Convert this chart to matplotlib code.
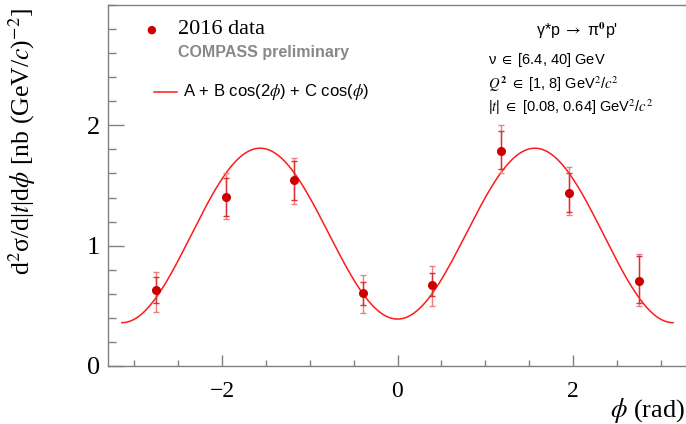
import numpy as np
import matplotlib
matplotlib.use("Agg")
import matplotlib.pyplot as plt
from matplotlib.ticker import MultipleLocator, FixedLocator

plt.rcParams["mathtext.fontset"] = "stix"

# phi bin centres (rad) and measured cross sections
phi = [-2.75, -1.96, -1.18, -0.39, 0.39, 1.18, 1.96, 2.75]
xsec = [0.63, 1.405, 1.545, 0.605, 0.67, 1.79, 1.44, 0.71]
# statistical errors (down, up)
stat_lo = [0.11, 0.155, 0.165, 0.095, 0.09, 0.15, 0.16, 0.19]
stat_hi = [0.11, 0.155, 0.155, 0.095, 0.10, 0.16, 0.165, 0.20]
# total errors (down, up)
tot_lo = [0.18, 0.185, 0.20, 0.165, 0.17, 0.185, 0.185, 0.21]
tot_hi = [0.15, 0.195, 0.185, 0.155, 0.16, 0.215, 0.215, 0.22]

# fit parameters of A + B cos(2phi) + C cos(phi)
fit_A = 1.0925
fit_B = -0.7175
fit_C = 0.015

W, H = 686, 424
fig = plt.figure(figsize=(W / 100, H / 100), dpi=100)
ax = fig.add_axes([108 / W, 58 / H, 579 / W, 361 / H])

frame = "#808080"
for side in ("left", "bottom", "top"):
    ax.spines[side].set_color(frame)
    ax.spines[side].set_linewidth(1.0)
ax.spines["right"].set_visible(False)

# fitted curve
xf = np.linspace(-np.pi, np.pi, 400)
yf = fit_A + fit_B * np.cos(2 * xf) + fit_C * np.cos(xf)
ax.plot(xf, yf, color="#ff1a1a", lw=1.1, zorder=2)

# error bars: total (outer) and statistical (inner)
ax.errorbar(phi, xsec, yerr=[tot_lo, tot_hi], fmt="none", ecolor="#ec8080",
            elinewidth=1.0, capsize=2.5, capthick=1.0, zorder=3)
ax.errorbar(phi, xsec, yerr=[stat_lo, stat_hi], fmt="none", ecolor="#d93030",
            elinewidth=1.0, capsize=2.5, capthick=1.0, zorder=4)
ax.plot(phi, xsec, "o", color="#cc0000", ms=5.5, zorder=5)

ax.set_xlim(-3.3, 3.3)
ax.set_ylim(0, 3.0)
ax.xaxis.set_major_locator(MultipleLocator(2))
ax.xaxis.set_minor_locator(MultipleLocator(0.5))
ax.yaxis.set_major_locator(FixedLocator([0, 1, 2]))
ax.yaxis.set_minor_locator(MultipleLocator(0.2))
ax.tick_params(axis="x", which="major", direction="in", length=8, width=1,
               color=frame, pad=11, labelsize=17)
ax.tick_params(axis="x", which="minor", direction="in", length=4.3, width=1,
               color=frame)
ax.tick_params(axis="y", which="major", direction="in", length=11.5, width=1,
               color=frame, pad=6, labelsize=19)
ax.tick_params(axis="y", which="minor", direction="in", length=5.8, width=1,
               color=frame)
ax.tick_params(top=False, right=False, which="both")
for lab in ax.get_xticklabels() + ax.get_yticklabels():
    lab.set_fontfamily("Liberation Serif")

ax.set_ylabel(r"d$^{2}$σ/d|$t$|d$\phi$ [nb (GeV/$c$)$^{-2}$]",
              fontfamily="Liberation Serif", fontsize=18.5)
ax.yaxis.set_label_coords((38 - 108) / 579, 1 - 3 / 361)
ax.yaxis.label.set_horizontalalignment("right")

fig.text(685 / W, 1 - 417 / H, r"$\phi$ (rad)", ha="right", va="baseline",
         fontfamily="Liberation Serif", fontsize=19)

# legend-style annotations
fig.text(151 / W, 1 - 30 / H, "●", color="#cc0000", ha="center",
         va="center", fontsize=8)
fig.text(178 / W, 1 - 30 / H, "2016 data", ha="left", va="center",
         fontfamily="Liberation Serif", fontsize=16)
fig.text(178 / W, 1 - 53 / H, "COMPASS preliminary", ha="left",
         va="center", fontfamily="Liberation Sans", fontweight="bold",
         fontsize=11.5, color="#888888")
fig.add_artist(plt.Line2D([154 / W, 177 / W], [1 - 92 / H, 1 - 92 / H],
                          color="#ff1a1a", lw=1.1, transform=fig.transFigure))
fig.text(183 / W, 1 - 92 / H, r"A + B cos(2$\phi$) + C cos($\phi$)",
         ha="left", va="center", fontfamily="Liberation Sans", fontsize=12)

sans = ["Liberation Sans", "DejaVu Sans"]
fig.text(577 / W, 1 - 31 / H, r"γ*p $\rightarrow$ π$^{\mathbf{0}}$p'",
         ha="center", va="center", family=sans, fontsize=11.5)
fig.text(488 / W, 1 - 60 / H, r"ν $\in$ [6.4, 40] GeV", ha="left",
         va="center", family=sans, fontsize=10.5)
fig.text(488 / W, 1 - 84 / H,
         r"$Q^{\mathbf{2}}$ $\in$ [1, 8] GeV$^2$/$c^2$",
         ha="left", va="center", family=sans, fontsize=10.5)
fig.text(488 / W, 1 - 107 / H,
         r"|$t$| $\in$ [0.08, 0.64] GeV$^2$/$c^2$", ha="left", va="center",
         family=sans, fontsize=10.5)

fig.savefig("out.png", dpi=100)
